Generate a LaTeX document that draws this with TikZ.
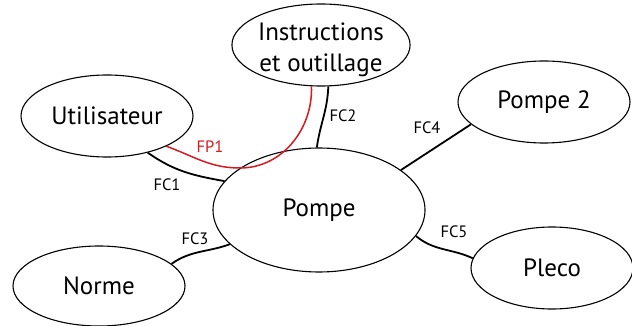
\documentclass[tikz,border=0pt]{standalone}
\usepackage{fontspec}
\setmainfont{PT Sans}
\usetikzlibrary{shapes.geometric}
\tikzset{
  ell/.style={draw, ellipse, line width=1.1pt, inner sep=0pt, font=\fontsize{25}{31}\selectfont, align=center},
  conn/.style={draw, line width=1.8pt},
  redconn/.style={draw, line width=1.5pt, color=fpred},
  lab/.style={font=\fontsize{16.5}{19}\selectfont, inner sep=0pt}
}
\definecolor{fpred}{RGB}{215,25,32}
\begin{document}
\begin{tikzpicture}[x=1pt,y=-1pt]
\useasboundingbox (0,0) rectangle (632,326);
\node[ell, minimum width=172pt, minimum height=82pt] (u) at (107,116) {Utilisateur};
\node[ell, minimum width=174pt, minimum height=82pt] (i) at (321,45) {\raisebox{-11.5pt}[0pt][0pt]{\begin{tabular}{@{}c@{}}Instructions\\et outillage\end{tabular}}};
\node[ell, minimum width=172pt, minimum height=82pt] (p2) at (544,102) {Pompe 2};
\node[ell, minimum width=212pt, minimum height=124pt] (p) at (319,210) {Pompe};
\node[ell, minimum width=172pt, minimum height=80pt] (n) at (99,286) {Norme};
\node[ell, minimum width=162pt, minimum height=82pt] (pl) at (552,268) {Pleco};
\coordinate (fpb) at (240,168);
% connectors
\draw[conn] (u.-42) to[out=-35,in=170] (p.163.6);
\draw[conn] (i.-80) to[out=-92,in=82] (p.92);
\draw[conn] (p.26.8) -- (p2.197.7);
\draw[conn] (n.17.3) to[out=35,in=200] (p.201.5);
\draw[conn] (p.-15.6) to[out=-40,in=155] (pl.173.2);
\draw[redconn] (u.-27.8) to[out=-20,in=180] (fpb) to[out=0,in=-88] (i.-103.7);
% labels
\node[lab] (l1) at (167,185) {FC1};
\node[lab, text=fpred] (l0) at (210,147) {FP1};
\node[lab] (l2) at (343,116) {FC2};
\node[lab] (l4) at (427,128) {FC4};
\node[lab] (l3) at (195,239) {FC3};
\node[lab] (l5) at (454,232) {FC5};
\end{tikzpicture}
\end{document}
